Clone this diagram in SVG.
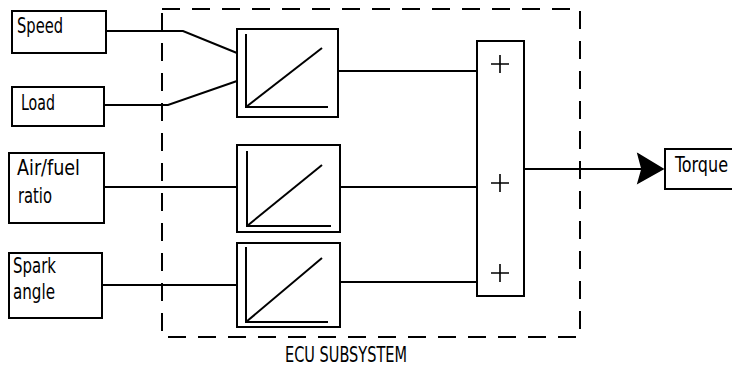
<svg xmlns="http://www.w3.org/2000/svg" width="732" height="372" viewBox="0 0 732 372">
<style>
.box{fill:#fff;stroke:#000;stroke-width:2}
.ln{fill:none;stroke:#000;stroke-width:2}
.pl{fill:none;stroke:#000;stroke-width:1.6}
.t{font-family:"DejaVu Sans Condensed","DejaVu Sans",sans-serif;font-size:21px;fill:#000}
</style>
<rect width="732" height="372" fill="#fff"/>
<g id="ecu-subsystem">
<rect x="162" y="9" width="418" height="328" fill="none" stroke="#000" stroke-width="2" stroke-dasharray="18 12"/>
<text class="t" x="285" y="362" textLength="122" lengthAdjust="spacingAndGlyphs">ECU SUBSYSTEM</text>
</g>
<g id="connectors">
<polyline class="ln" points="106,31 183,31 237,53"/>
<polyline class="ln" points="104,105 168,105 237,81"/>
<line class="ln" x1="104" y1="187" x2="237" y2="187"/>
<line class="ln" x1="100" y1="285" x2="237" y2="285"/>
<line class="ln" x1="338" y1="71" x2="477" y2="71"/>
<line class="ln" x1="340" y1="187" x2="477" y2="187"/>
<line class="ln" x1="340" y1="282" x2="477" y2="282"/>
<line class="ln" x1="524" y1="169" x2="645" y2="169"/>
<polygon points="638,154 663,169 638,183 642,169" fill="#000" stroke="#000" stroke-width="1.5"/>
</g>
<g id="speed">
<rect class="box" x="12" y="11" width="94" height="42"/>
<text class="t" x="17" y="33" textLength="46" lengthAdjust="spacingAndGlyphs">Speed</text>
</g>
<g id="load">
<rect class="box" x="12" y="87" width="92" height="39"/>
<text class="t" x="21" y="110" textLength="34" lengthAdjust="spacingAndGlyphs">Load</text>
</g>
<g id="airfuel">
<rect class="box" x="9" y="153" width="95" height="70"/>
<text class="t" x="17" y="175" textLength="63" lengthAdjust="spacingAndGlyphs">Air/fuel</text>
<text class="t" x="18" y="203" textLength="34" lengthAdjust="spacingAndGlyphs">ratio</text>
</g>
<g id="spark">
<rect class="box" x="9" y="253" width="93" height="65"/>
<text class="t" x="13" y="273" textLength="43" lengthAdjust="spacingAndGlyphs">Spark</text>
<text class="t" x="13" y="299" textLength="42" lengthAdjust="spacingAndGlyphs">angle</text>
</g>
<g id="lookup1">
<rect class="box" x="237" y="29" width="101" height="88"/>
<polyline class="ln" points="246,34 246,107 328,107"/>
<line class="ln" x1="246" y1="107" x2="322" y2="48"/>
</g>
<g id="lookup2">
<rect class="box" x="237" y="145" width="103" height="87"/>
<polyline class="ln" points="247,151 247,226 331,226"/>
<line class="ln" x1="247" y1="226" x2="322" y2="165"/>
</g>
<g id="lookup3">
<rect class="box" x="237" y="243" width="103" height="84"/>
<polyline class="ln" points="246,247 246,322 328,322"/>
<line class="ln" x1="246" y1="322" x2="322" y2="258"/>
</g>
<g id="sum">
<rect class="box" x="477" y="41" width="47" height="255"/>
<path class="pl" d="M491,64 h18 M500,55 v18 M491,183 h18 M500,174 v18 M491,273 h18 M500,264 v18"/>
</g>
<g id="torque">
<rect class="box" x="665" y="149" width="70" height="40"/>
<text class="t" x="675" y="172" textLength="53" lengthAdjust="spacingAndGlyphs">Torque</text>
</g>
</svg>
